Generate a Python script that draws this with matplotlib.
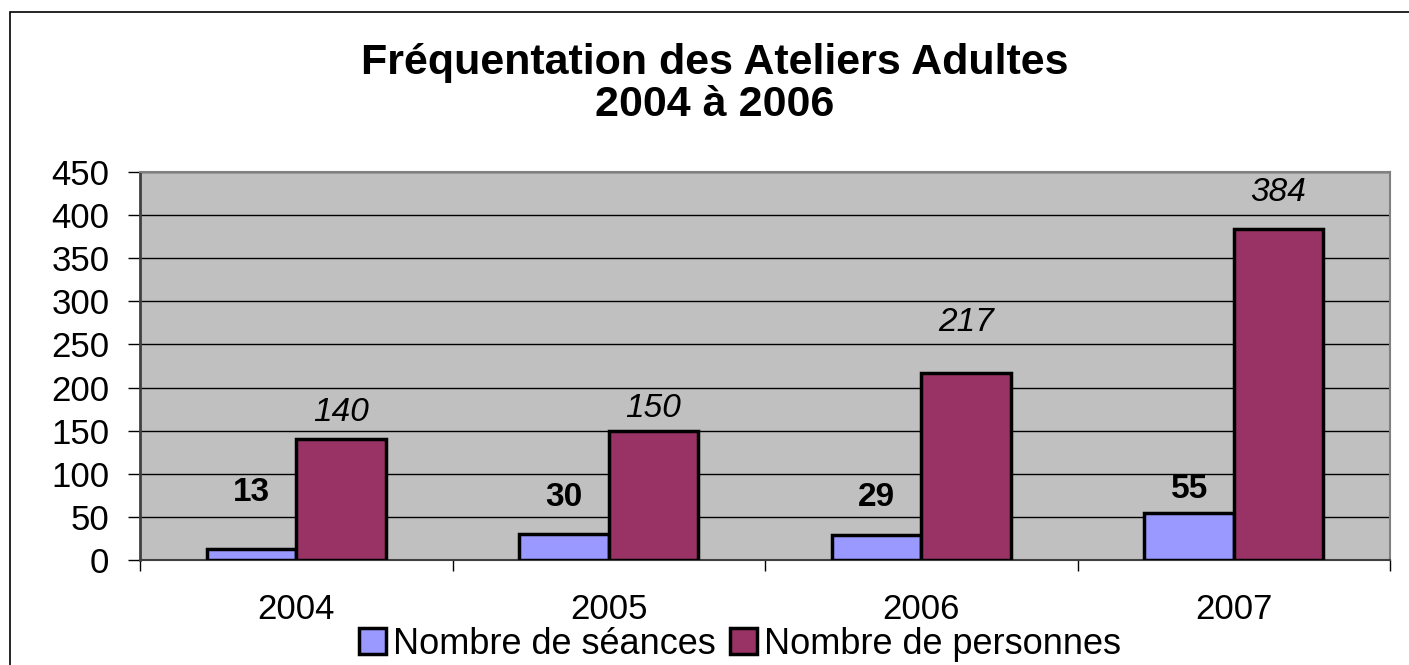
import numpy as np
import matplotlib.pyplot as plt
from matplotlib.patches import Rectangle

# --- Data ---
YEARS = ['2004', '2005', '2006', '2007']
SEANCES = [13, 30, 29, 55]
PERSONNES = [140, 150, 217, 384]
SERIES_NAMES = ['Nombre de séances', 'Nombre de personnes']
TITLE_LINES = ['Fréquentation des Ateliers Adultes', '2004 à 2006']

# label offsets above bar top (pixels), labels were hand-placed in the original
OFF_SEANCES = [56, 37, 37, 23]
OFF_PERSONNES = [27, 22, 50, 36]

COL_SEANCES = '#9999FF'
COL_PERSONNES = '#993366'
BG = '#C0C0C0'

plt.rcParams['font.family'] = ['Liberation Sans', 'DejaVu Sans']

W, H = 1409, 665
fig = plt.figure(figsize=(W / 100, H / 100), dpi=100)

# outer chart border (only top/left visible in the crop)
fig.patches.append(Rectangle((10 / W, -0.1), 1.2, 1 - 12 / H + 0.1,
                             transform=fig.transFigure, fill=False,
                             edgecolor='black', linewidth=1.2))

ax = fig.add_axes([140 / W, (H - 560) / H, 1250 / W, 388 / H])
ax.set_facecolor(BG)

x = np.arange(len(YEARS))
bw = 0.286
b1 = ax.bar(x - bw / 2, SEANCES, bw, color=COL_SEANCES, edgecolor='black',
            linewidth=2.5, zorder=3, label=SERIES_NAMES[0])
b2 = ax.bar(x + bw / 2, PERSONNES, bw, color=COL_PERSONNES, edgecolor='black',
            linewidth=2.5, zorder=3, label=SERIES_NAMES[1])

for rect, v, off in zip(b1, SEANCES, OFF_SEANCES):
    ax.annotate(str(v), (rect.get_x() + rect.get_width() / 2, v),
                xytext=(0, off), textcoords='offset pixels',
                ha='center', va='center', fontsize=24, fontweight='bold')
for rect, v, off in zip(b2, PERSONNES, OFF_PERSONNES):
    ax.annotate(str(v), (rect.get_x() + rect.get_width() / 2, v),
                xytext=(0, off), textcoords='offset pixels',
                ha='center', va='center', fontsize=24, fontstyle='italic')

ax.set_ylim(0, 450)
ax.set_yticks(np.arange(0, 451, 50))
ax.set_xlim(-0.5, len(YEARS) - 0.5)
ax.set_xticks(x)
ax.set_xticklabels(YEARS)
ax.set_xticks(np.arange(-0.5, len(YEARS), 1), minor=True)

ax.grid(axis='y', color='black', linewidth=1, zorder=1)
ax.tick_params(axis='y', length=9, width=1, pad=13, labelsize=25, direction='out')
ax.tick_params(axis='x', which='major', length=0, pad=24, labelsize=25)
ax.tick_params(axis='x', which='minor', length=8, width=1, direction='out')

for side in ['top', 'right']:
    ax.spines[side].set_color('#808080')
    ax.spines[side].set_linewidth(1.5)
ax.spines['left'].set_color('#404040')
ax.spines['left'].set_linewidth(2)
ax.spines['bottom'].set_color('#404040')
ax.spines['bottom'].set_linewidth(1.5)

fig.text(715 / W, 1 - 63 / H, TITLE_LINES[0], ha='center', va='center',
         fontsize=31, fontweight='bold')
fig.text(715 / W, 1 - 105 / H, TITLE_LINES[1], ha='center', va='center',
         fontsize=31, fontweight='bold')

fig.legend(handles=[b1, b2], loc='center', bbox_to_anchor=(740 / W, 1 - 644 / H),
           ncol=2, frameon=False, fontsize=26, handlelength=0.75, handleheight=0.75,
           handletextpad=0.2, columnspacing=0.4, borderaxespad=0, borderpad=0)

fig.savefig('out.png', dpi=100)
